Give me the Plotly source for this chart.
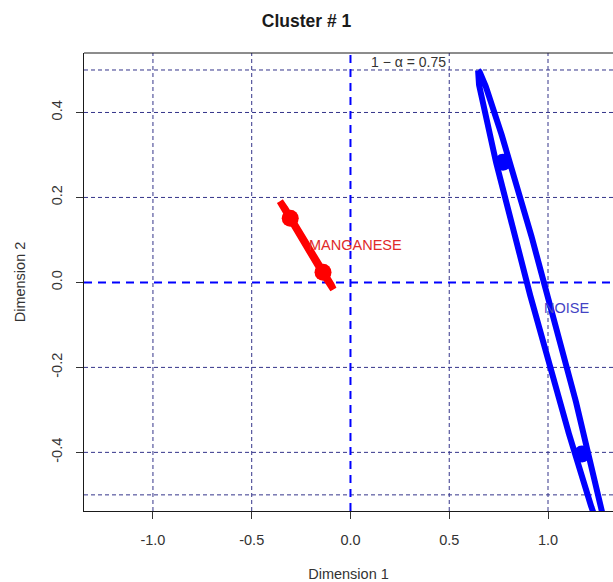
import numpy as np
import plotly.graph_objects as go

# Cluster labels and their two coordinate points (Dimension 1, Dimension 2)
clusters = ["MANGANESE", "NOISE"]
point_x = [[-0.305, -0.139], [0.772, 1.172]]
point_y = [[0.151, 0.024], [0.283, -0.404]]
cluster_colors = ["#ff0000", "#0000ff"]
label_colors = ["#e02a2a", "#4343c4"]

# Confidence ellipse: semi-major axis as a multiple of half the point spacing,
# plus the semi-minor half-vector in data units
major_scale = [1.63, 1.63]
minor_vec = [(0.004, 0.0011), (0.0416, 0.0052)]
ellipse_width = [7, 6]

# Axis ticks and reference lines
x_ticks = [-1.0, -0.5, 0.0, 0.5, 1.0]
x_tick_text = ["-1.0", "-0.5", "0.0", "0.5", "1.0"]
y_ticks = [-0.4, -0.2, 0.0, 0.2, 0.4]
y_tick_text = ["-0.4", "-0.2", "0.0", "0.2", "0.4"]
grid_x = [-1.0, -0.5, 0.5, 1.0]
grid_y = [-0.5, -0.4, -0.2, 0.2, 0.4, 0.5]

x_range = [-1.349, 1.329]
y_range = [-0.538, 0.540]

FONT = "Liberation Sans, Arial, sans-serif"

fig = go.Figure()

# Reference grid
shapes = []
for gx in grid_x:
    shapes.append(dict(type="line", xref="x", yref="paper", x0=gx, x1=gx, y0=0, y1=1,
                       line=dict(color="#34348a", width=1, dash="4px,3px"), layer="below"))
for gy in grid_y:
    shapes.append(dict(type="line", xref="paper", yref="y", x0=0, x1=1, y0=gy, y1=gy,
                       line=dict(color="#34348a", width=1, dash="4px,3px"), layer="below"))
# Origin axes
shapes.append(dict(type="line", xref="x", yref="paper", x0=0, x1=0, y0=0, y1=1,
                   line=dict(color="#0000ff", width=2, dash="8px,6px"), layer="below"))
shapes.append(dict(type="line", xref="paper", yref="y", x0=0, x1=1, y0=0, y1=0,
                   line=dict(color="#0000ff", width=2, dash="8px,6px"), layer="below"))
# Top border of the plotting box
shapes.append(dict(type="line", xref="paper", yref="paper", x0=0, x1=1, y0=1, y1=1,
                   line=dict(color="#1a1a1a", width=1)))

t = np.linspace(0, 2 * np.pi, 500)
for i, name in enumerate(clusters):
    px = np.array(point_x[i])
    py = np.array(point_y[i])
    cx, cy = px.mean(), py.mean()
    ux = (px[0] - px[1]) / 2 * major_scale[i]
    uy = (py[0] - py[1]) / 2 * major_scale[i]
    vx, vy = minor_vec[i]
    ex = cx + np.cos(t) * ux + np.sin(t) * vx
    ey = cy + np.cos(t) * uy + np.sin(t) * vy
    fig.add_trace(go.Scatter(x=ex, y=ey, mode="lines",
                             line=dict(color=cluster_colors[i], width=ellipse_width[i]),
                             hoverinfo="skip", showlegend=False, cliponaxis=True))
    fig.add_trace(go.Scatter(x=px, y=py, mode="markers",
                             marker=dict(color=cluster_colors[i], size=17, line=dict(width=0)),
                             name=name, showlegend=False))
    fig.add_annotation(x=cx, y=cy, xref="x", yref="y", text=name, showarrow=False,
                       xanchor="left", yanchor="middle",
                       font=dict(family=FONT, size=14.5, color=label_colors[i]))

fig.add_annotation(x=0.296, y=0.519, xref="x", yref="y", text="1 \u2212 \u03b1 = 0.75",
                   showarrow=False, xanchor="center", yanchor="middle",
                   font=dict(family=FONT, size=14, color="#333333"))

fig.update_layout(
    width=613, height=582,
    margin=dict(l=84, r=0, t=53, b=71),
    paper_bgcolor="white", plot_bgcolor="white",
    shapes=shapes,
    title=dict(text="<b>Cluster # 1</b>", x=0.5, xanchor="center", y=0.964, yanchor="middle",
               xref="container",
               font=dict(family=FONT, size=17.5, color="#1a1a1a")),
    font=dict(family=FONT, size=14.5, color="#333333"),
)
fig.update_xaxes(range=x_range, tickvals=x_ticks, ticktext=x_tick_text,
                 showgrid=False, zeroline=False, showline=True, linecolor="#1a1a1a", linewidth=1,
                 ticks="outside", ticklen=7, tickcolor="#333333", ticklabelstandoff=9,
                 title=dict(text="Dimension 1", standoff=22,
                            font=dict(family=FONT, size=14.5, color="#333333")))
fig.update_yaxes(range=y_range, tickvals=y_ticks, ticktext=y_tick_text, tickangle=-90,
                 showgrid=False, zeroline=False, showline=True, linecolor="#1a1a1a", linewidth=1,
                 ticks="outside", ticklen=7, tickcolor="#333333", ticklabelstandoff=8,
                 title=dict(text="Dimension 2", standoff=20,
                            font=dict(family=FONT, size=14.5, color="#333333")))

fig.write_html("out.html")
